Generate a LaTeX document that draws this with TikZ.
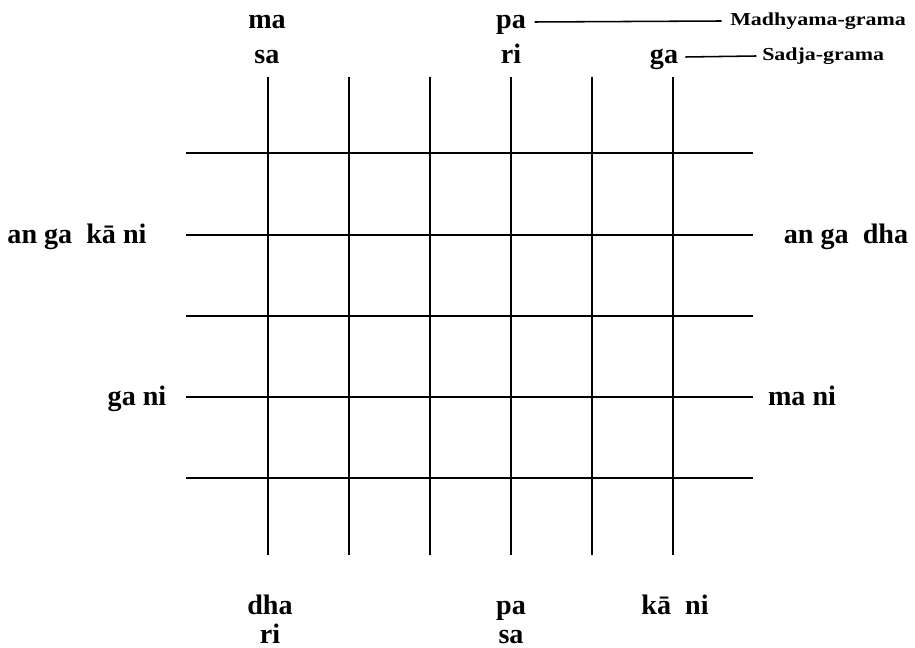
\documentclass[tikz,border=0pt]{standalone}
\usepackage{fontspec}
\setmainfont{Liberation Serif}
\newfontfamily\gramafont[FakeStretch=1.2]{Liberation Serif}
\usetikzlibrary{positioning}

\begin{document}
\begin{tikzpicture}[x=0.025cm,y=-0.025cm,
  svara/.style={font=\fontsize{20}{24}\selectfont\bfseries,text height=11pt,text depth=2pt,inner sep=0pt},
  grama/.style={font=\gramafont\fontsize{13}{15}\selectfont\bfseries,text height=8pt,text depth=1pt,inner sep=0pt,anchor=west},
  rule/.style={line width=1.1pt}]
\useasboundingbox (0,0) rectangle (915,648);
% grid
\foreach \x in {268,349,430,511,592,673}{\draw[rule](\x,77)--(\x,555);}
\foreach \y in {153,235,316,397,478}{\draw[rule](186,\y)--(753,\y);}
% top
\node[svara](ma) at (267,22){ma};
\node[svara](sat) at (267,57){sa};
\node[svara](pat) at (511,22){pa};
\node[svara](rit) at (511,57){ri};
\node[svara](gat) at (664,57){ga};
\node[grama](madh) at (730,21){Madhyama-grama};
\node[grama](sadj) at (762,56){Sadja-grama};
\draw[rule]([xshift=6pt]pat.east)--([xshift=-6pt]madh.west);
\draw[rule]([xshift=5pt]gat.east)--([xshift=-4pt]sadj.west);
% sides
\node[svara](angakani) at (77,237){an ga\ \ kā ni};
\node[svara](gani) at (137,399){ga ni};
\node[svara](angadha) at (846,237){an ga\ \ dha};
\node[svara](mani) at (802,399){ma ni};
% bottom
\node[svara](dha) at (270,608){dha};
\node[svara](rib) at (270,637){ri};
\node[svara](pab) at (511,608){pa};
\node[svara](sab) at (511,637){sa};
\node[svara](kani) at (675,608){kā\ \ ni};
\end{tikzpicture}
\end{document}
